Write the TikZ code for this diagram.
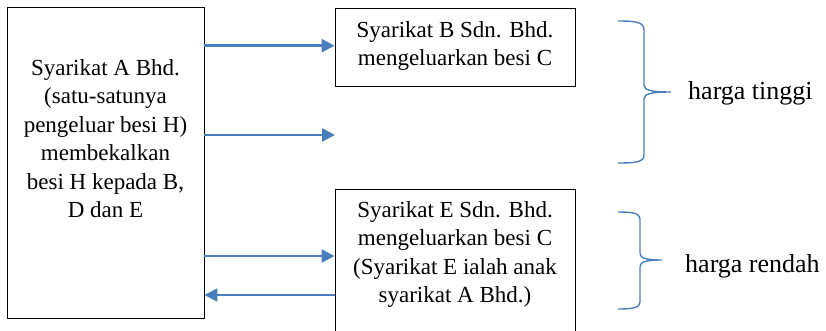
\documentclass[tikz,border=0pt]{standalone}
\usepackage{fontspec}
\setmainfont{Liberation Serif}
\usetikzlibrary{arrows.meta}
\definecolor{arrblue}{RGB}{74,126,187}
\tikzset{
  box/.style={draw=black, line width=0.9pt, inner sep=0pt},
  boxtext/.style={align=center, inner sep=0pt, anchor=north, font=\fontsize{23}{28.5}\selectfont},
  label/.style={inner sep=0pt, anchor=base west, font=\fontsize{26}{30}\selectfont},
  arr/.style={draw=arrblue, line width=2.5pt, -{Triangle[length=13pt,width=13pt]}},
  bracep/.style={draw=arrblue, line width=1.4pt},
}
\begin{document}
\begin{tikzpicture}[x=1pt,y=-1pt]
\clip (0,0) rectangle (826,330);
\fill[white] (0,0) rectangle (826,330);
% boxes
\node[box, minimum width=197pt, minimum height=311pt] (A) at (105.5,162.5) {};
\node[box, minimum width=240pt, minimum height=78pt] (B) at (455,47) {};
\node[box, minimum width=240pt, minimum height=200pt] (E) at (455,289) {};
% texts
\node[boxtext] (At) at (105.5,59.3) {Syarikat A Bhd.\\(satu-satunya\\pengeluar besi H)\\membekalkan\\besi H kepada B,\\D dan E};
\node[boxtext] (Bt) at (455,21.3) {Syarikat B Sdn. Bhd.\\mengeluarkan besi C};
\node[boxtext] (Et) at (455,201.3) {Syarikat E Sdn. Bhd.\\mengeluarkan besi C\\(Syarikat E ialah anak\\syarikat A Bhd.)};
% arrows
\coordinate (y1) at (0,45.7);
\coordinate (y2) at (0,135);
\coordinate (y3) at (0,256);
\coordinate (y4) at (0,295);
\coordinate (D) at (335,135);
\draw[arr] (A.east |- y1) -- (B.west |- y1);
\draw[arr] (A.east |- y2) -- (D);
\draw[arr] (A.east |- y3) -- (E.west |- y3);
\draw[arr] (E.west |- y4) -- (A.east |- y4);
% braces
\coordinate (t1) at (671,92);
\coordinate (t2) at (662,260);
\draw[bracep] (618,21) .. controls (636,21) and (644,22) .. (644,30) -- (644,85)
  .. controls (644,90) and (650,92) .. (t1)
  .. controls (650,92) and (644,94) .. (644,99) -- (644,155)
  .. controls (644,162) and (636,163) .. (618,163);
\draw[bracep] (618,212) .. controls (632,212) and (640,213) .. (640,219) -- (640,253)
  .. controls (640,258) and (645,260) .. (t2)
  .. controls (645,260) and (640,262) .. (640,267) -- (640,302)
  .. controls (640,308) and (632,309) .. (618,309);
% labels
\node[label] (hT) at (688,99) {harga tinggi};
\node[label] (hR) at (685,272) {harga rendah};
\end{tikzpicture}
\end{document}
